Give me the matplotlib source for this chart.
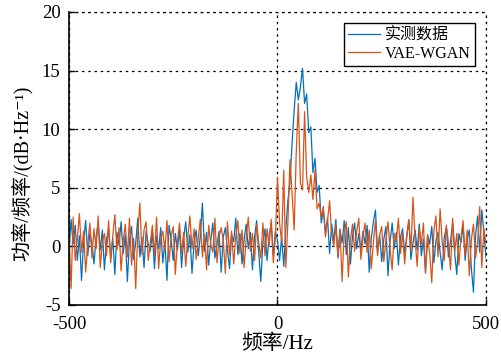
import numpy as np
import matplotlib
matplotlib.use("Agg")
import matplotlib.pyplot as plt

plt.rcParams['font.family'] = ['Liberation Serif', 'Noto Sans CJK SC', 'DejaVu Serif']

# 频率轴：-500 ~ 500 Hz，步长 5 Hz
freq = np.arange(-500, 505, 5)

measured = [
    -0.5, 2.3, 0.2, 1.8, -1.2, 0.9, -2.9, 0.4, 2.2, -0.8, 1.1, 0.3, -1.5, 0.8, 2.0, -0.3, 1.4, -2.0, 0.6, 1.5,
    -1.0, 0.7, -2.4, 1.2, 0.1, 2.1, -0.6, 1.0, -3.0, 0.5, 1.7, -1.1, 0.3, 2.4, -0.9, 0.8, -1.8, 1.3, 0.2, -0.4,
    1.2, -1.9, 0.9, -0.2, 1.6, -1.4, 0.4, -2.9, 1.8, 0.6, -1.2, 1.1, -0.3, 1.5, -1.8, 0.7, 2.1, -0.5, 1.0, -2.3,
    0.3, 1.4, -0.8, 0.9, 3.7, -0.4, 1.2, -1.6, 0.5, 2.0, -1.0, 0.2, 1.3, -2.2, 0.8, 1.6, -0.3, -1.9, 1.0, 0.4,
    2.4, -0.7, 1.1, -1.5, 0.6, 1.9, -0.2, 1.2, -2.0, 0.8, 2.2, -0.5, -3.0, 0.4, 1.5, -1.2, 0.9, 2.0, -0.8, 1.3,
    0.5, -1.2, 0.8, -1.7, 1.5, 3.9, 5.5, 8.8, 11.6, 14.0, 12.5, 13.6, 15.2, 12.2, 13.0, 9.7, 10.2, 6.3, 7.5, 4.6,
    5.2, 2.0, 3.1, 1.2, 2.4, -0.6, 1.9, 0.5, 2.3, -1.0, 1.4, 0.3, 2.2, -0.7, 1.6, -1.5, 0.9, 2.0, -0.2, 1.1,
    -0.4, 1.3, 0.2, 1.8, -2.2, 0.7, 2.1, 3.1, -0.5, 1.0, -1.3, 0.6, 1.7, -2.5, 0.4, 2.0, -0.2, 1.2, -1.6, 0.8,
    1.5, -0.6, 0.9, 2.2, -1.1, 0.3, 1.4, -0.3, 1.9, -0.8, 0.6, -2.2, 1.0, 0.2, 1.7, -1.4, 0.5, 1.2, -0.5, -2.0,
    0.8, 1.6, -0.9, 0.4, 2.0, -0.6, -2.4, 1.1, 0.3, 1.8, -1.2, 0.6, 1.4, -1.9, -3.9, 0.9, 2.6, -0.5, 3.1, 1.2,
    -1.0,
]

# VAE-WGAN 生成数据
generated = [
    1.0, -3.6, 2.5, -1.2, 0.6, 2.8, -0.5, 1.3, -2.2, 0.2, 2.0, -1.0, 1.5, -0.2, 2.6, -1.8, 0.4, 1.1, -0.8, 2.2,
    -1.4, 0.9, 2.7, -0.3, 1.6, -2.1, 0.5, 1.9, -0.9, 2.4, -1.6, 0.7, -3.6, 1.2, 3.7, -0.7, 1.4, 2.1, -1.2, 0.3,
    1.8, -0.8, 2.5, -1.9, 0.6, 1.3, -0.4, 2.2, -1.3, 0.9, 1.7, -2.4, 0.4, 2.0, -0.6, 1.2, -1.7, 0.8, 2.6, -0.2,
    1.5, -1.1, 0.7, 2.3, -0.9, 1.0, -2.0, 1.8, 0.2, -0.5, 2.4, -1.4, 0.8, 1.6, 0.5, -2.3, 2.1, -0.7, 1.3, -1.5,
    0.9, 2.2, -0.6, 1.4, -1.8, 0.7, 2.5, -0.4, 1.1, -1.2, 1.9, 0.3, -1.0, 2.0, -0.8, 1.5, 0.1, 2.3, -1.4, 0.8,
    5.9, 2.0, 0.4, 6.5, -1.8, 2.1, 7.4, 4.5, 1.4, 8.0, 12.2, 5.4, 4.8, 11.5, 5.9, 4.6, 6.1, 4.0, 6.5, 3.2,
    3.7, 2.5, 3.4, 0.8, 2.2, 3.9, 1.0, 0.0, 1.8, -0.9, 1.5, -3.0, 1.2, 2.1, -2.6, 0.6, 1.9, -0.4, 1.3, 2.4,
    -1.1, 0.7, 2.0, -0.5, 1.4, -1.9, 0.3, 2.2, -0.8, 1.0, 1.7, -1.3, 0.5, 2.1, -0.2, -2.0, 1.1, 0.4, 2.4, -0.6,
    1.2, -1.5, 0.8, 2.3, -0.4, 4.2, 0.6, -1.7, 1.5, 0.2, 2.0, -2.3, 0.9, -0.6, -3.1, 1.3, 2.6, -0.9, 3.2, 0.4,
    -1.2, 1.8, 0.3, -2.0, 2.4, -0.5, 1.1, -1.6, 0.7, 2.2, -0.8, 1.4, -2.5, 0.6, 1.9, -1.0, 0.4, 3.4, -1.8, 1.5,
    0.2,
]

x_ticks = [-500, 0, 500]
y_ticks = [-5, 0, 5, 10, 15, 20]

GRID_LS = (0, (2, 3))

fig = plt.figure(figsize=(5.01, 3.62), dpi=100)
ax = fig.add_axes([0.1377, 0.1575, 0.8323, 0.8094])

ax.plot(freq, measured, color='#0072BD', lw=0.9, label='实测数据')
ax.plot(freq, generated, color='#D95319', lw=0.9, label='VAE-WGAN')

ax.set_xlim(-500, 500)
ax.set_ylim(-5, 20)
ax.set_xticks(x_ticks)
ax.set_yticks(y_ticks)
ax.set_xticklabels([str(t) for t in x_ticks])
ax.set_yticklabels([str(t) for t in y_ticks])
ax.tick_params(direction='in', length=4, width=1, labelsize=13.5,
               top=False, right=False)
ax.tick_params(axis='x', pad=8)
ax.tick_params(axis='y', pad=6)

# 虚线网格（顶部/右侧也用网格线代替边框）
ax.grid(True, color='black', linestyle=GRID_LS, linewidth=0.9)
ax.spines['top'].set_visible(False)
ax.spines['right'].set_visible(False)
ax.spines['left'].set_linewidth(1.2)
ax.spines['bottom'].set_linewidth(1.2)
ax.axvline(500, color='black', linestyle=GRID_LS, linewidth=0.9, clip_on=False)
ax.axhline(20, color='black', linestyle=GRID_LS, linewidth=0.9, clip_on=False)

ax.set_xlabel('频率/Hz', fontsize=15, labelpad=1)
ax.set_ylabel('功率/频率/(dB·Hz⁻¹)', fontsize=14.5)
ax.yaxis.set_label_coords(-0.088, 0.45)

leg = ax.legend(loc='upper right', fontsize=11.5, frameon=True, fancybox=False,
                edgecolor='black', framealpha=1, handlelength=2.0,
                handletextpad=0.3, borderpad=0.25, labelspacing=0.15,
                borderaxespad=0.7)
leg.get_frame().set_linewidth(1.0)

fig.savefig('out.png', dpi=100)
